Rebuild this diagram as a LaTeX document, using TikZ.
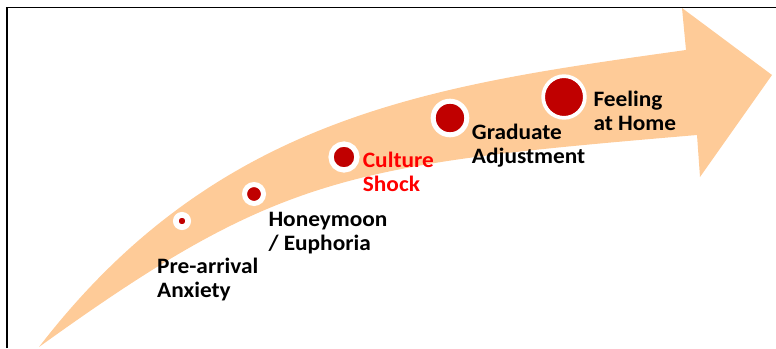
\documentclass[tikz,border=0pt]{standalone}
\usepackage{fontspec}
\setmainfont{Carlito}[FakeStretch=1.06]
\definecolor{arrowfill}{RGB}{254,203,152}
\definecolor{dotred}{RGB}{192,0,0}
\definecolor{shockred}{RGB}{255,0,0}
\begin{document}
\begin{tikzpicture}[x=1pt,y=-1pt,
  dot/.style={circle,inner sep=0pt,fill=dotred,draw=white},
  lbl/.style={anchor=base west,inner sep=0pt,align=left,font=\fontsize{22}{24.5}\selectfont\bfseries}]
\useasboundingbox (0,0) rectangle (776,348);
% frame
\draw[line width=1.7pt] (6.7,348) -- (6.7,7.3);
\draw[line width=1pt] (5.85,7.3) -- (776,7.3);
% arrow
\fill[arrowfill] (39,347) .. controls (219,113) and (436,85) .. (686,50)
  -- (682,8) -- (772,75) -- (700,177) -- (697,135)
  .. controls (347,164.75) and (279,174.2) .. (39,347) -- cycle;
% dots
\node[dot,line width=5.7pt,minimum size=12.3pt] (d1) at (182,221) {};
\node[dot,line width=5pt,minimum size=19pt] (d2) at (254,194) {};
\node[dot,line width=5.3pt,minimum size=25.9pt] (d3) at (344,157) {};
\node[dot,line width=5pt,minimum size=33.6pt] (d4) at (450,118) {};
\node[dot,line width=3.7pt,minimum size=41.7pt] (d5) at (564,97) {};
% labels (base anchor = baseline of the last line)
\node[lbl] (l1) at (157,297.8) {Pre-arrival\\Anxiety};
\node[lbl] (l2) at (268.3,250.5) {Honeymoon\\/ Euphoria};
\node[lbl,text=shockred] (l3) at (362.7,191.8) {Culture\\Shock};
\node[lbl] (l4) at (471.7,163.8) {Graduate\\Adjustment};
\node[lbl] (l5) at (593.3,130.5) {Feeling\\at Home};
\end{tikzpicture}
\end{document}
